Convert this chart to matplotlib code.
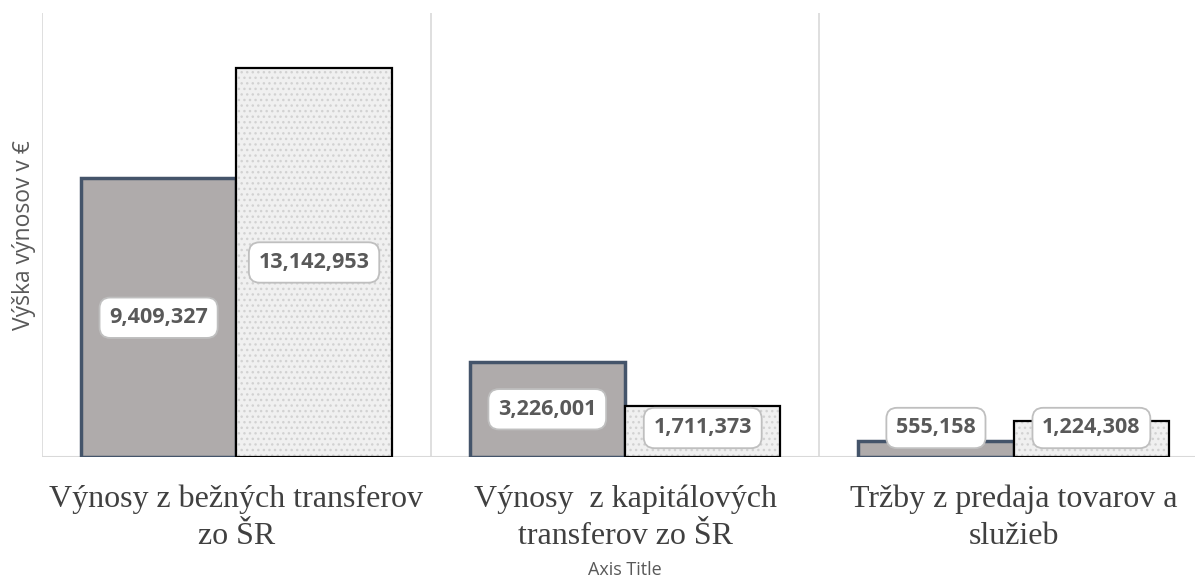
import numpy as np
import matplotlib.pyplot as plt

categories = ['Výnosy z bežných transferov\nzo ŠR',
              'Výnosy  z kapitálových\ntransferov zo ŠR',
              'Tržby z predaja tovarov a\nslužieb']
series_a = [9409327, 3226001, 555158]
series_b = [13142953, 1711373, 1224308]

plt.rcParams['hatch.linewidth'] = 1.0

fig = plt.figure(figsize=(11.95, 5.82), dpi=100)
# plot area: x 42..1208 px (runs past the right edge), y 13..457 px
ax = fig.add_axes([42/1195, 1-457/582, 1166/1195, 444/582])

x = np.arange(len(categories))
w = 0.4
ax.bar(x - w/2, series_a, w, color='#afabab', edgecolor='#44546a', linewidth=2.5, zorder=3)
# textured fill: hatch takes the edge colour, so draw fill and outline separately
ax.bar(x + w/2, series_b, w, color='#f0f0f0', edgecolor='#d2d2d2', linewidth=0,
       hatch='...', zorder=3)
ax.bar(x + w/2, series_b, w, fill=False, edgecolor='black', linewidth=1.6, zorder=4)

ax.set_xlim(-0.5, 2.5)
ax.set_ylim(0, 15e6)

for b in [-0.5, 0.5, 1.5, 2.5]:
    ax.axvline(b, color='#d9d9d9', lw=1.2, zorder=1)
ax.axhline(0, color='#d9d9d9', lw=1.5, zorder=2)

for s in ax.spines.values():
    s.set_visible(False)
ax.set_yticks([])
ax.set_xticks(x)
ax.set_xticklabels(categories, fontfamily='Liberation Serif', fontsize=23, color='#404040',
                   linespacing=1.35)
ax.tick_params(axis='x', length=0, pad=20)

ax.set_ylabel('Výška výnosov v €', fontfamily='Open Sans', fontsize=16.5, color='#595959', labelpad=4)
ax.set_xlabel('Axis Title', fontfamily='Open Sans', fontsize=13, color='#595959', labelpad=7)

box = dict(boxstyle='round,pad=0.45,rounding_size=0.5', fc='white', ec='#bfbfbf', lw=1.3)
for xs, vals in [(x - w/2, series_a), (x + w/2, series_b)]:
    for xi, v in zip(xs, vals):
        ax.text(xi, max(v/2, 0.98e6), f'{v:,}', ha='center', va='center', fontsize=15.5,
                fontweight='bold', fontfamily='Open Sans', color='#595959', bbox=box, zorder=5)

fig.savefig('out.png', dpi=100)
